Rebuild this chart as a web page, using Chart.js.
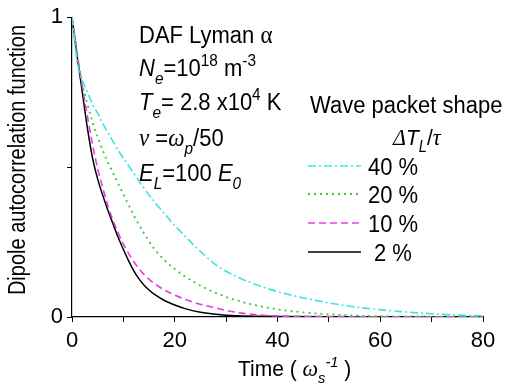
<!DOCTYPE html>
<html><head><meta charset="utf-8">
<script src="https://cdn.jsdelivr.net/npm/chart.js@4"></script>
<style>html,body{margin:0;padding:0;background:#fff}#wrap{width:509px;height:387px}</style>
</head><body><div id="wrap"><canvas id="c" width="509" height="387"></canvas></div>
<script>
const seriesLabels = ['40 %', '20 %', '10 %', '2 %'];
const t40 = [0,1,2,3,4,5,6,7,8,9,10,12,14,16,18,20,22,24,26,28,31,34,38,42,46,50,54,60,64,70,74,80];
const v40 = [1,0.85,0.79,0.75,0.71,0.68,0.645,0.615,0.585,0.555,0.53,0.48,0.43,0.385,0.345,0.305,0.27,0.235,0.203,0.174,0.143,0.12,0.095,0.076,0.06,0.047,0.036,0.024,0.018,0.011,0.007,0.004];
const t20 = [0,1,2,3,4,5,6,7,8,9,10,12,14,16,18,20,22,25,28,31,35,38,42,46,50,56,65,80];
const v20 = [1,0.88,0.78,0.71,0.65,0.6,0.555,0.515,0.48,0.445,0.41,0.34,0.28,0.228,0.19,0.16,0.135,0.105,0.08,0.061,0.042,0.031,0.021,0.014,0.009,0.004,0.002,0.001];
const t10 = [0,1,2,3,4,5,6,7,8,9,10,11,12,13,14,16,18,20,23,26,28,30,33,38,45,60,80];
const v10 = [1,0.88,0.77,0.67,0.575,0.495,0.43,0.37,0.322,0.28,0.243,0.212,0.185,0.162,0.142,0.112,0.09,0.073,0.053,0.038,0.03,0.022,0.013,0.005,0.002,0.001,0.001];
const t2 = [0,1,2,3,4,5,6,7,8,9,10,11,12,13,14,15,16,18,20,22,25,28,32,40,50,60,80];
const v2 = [1,0.87,0.75,0.63,0.53,0.46,0.405,0.355,0.31,0.265,0.225,0.188,0.155,0.128,0.107,0.09,0.076,0.055,0.04,0.028,0.016,0.009,0.004,0.002,0.001,0.001,0.001];
const xTicks = [0,10,20,30,40,50,60,70,80];
const xLabels = [0,20,40,60,80];
const yTicks = [0,0.5,1];
const yLabels = [0,1];

const FONT = '"Liberation Sans", Arial, sans-serif';
const SERIF = '"Liberation Serif", "Times New Roman", serif';
const pts = (t,v) => t.map((x,i)=>({x:x,y:v[i]}));

// segs: [text, mode]; modes: n, i, g (greek upright serif), gi (greek italic serif), sub, isub, sup, isup
function drawRich(ctx, x, y, segs, size, sy) {
  ctx.save();
  ctx.translate(x, y);
  ctx.scale(1, sy || 1);
  let cx = 0;
  for (const [txt, m] of segs) {
    let fs = size, dy = 0, font = FONT, it = false;
    if (m === 'i') it = true;
    if (m === 'g') { font = SERIF; fs = size * 1.05; }
    if (m === 'gi') { font = SERIF; it = true; fs = size * 1.05; }
    if (m === 'sub' || m === 'isub') { fs = size*0.7; dy = size*0.33; it = m==='isub'; }
    if (m === 'sup' || m === 'isup') { fs = size*0.7; dy = -size*0.42; it = m==='isup'; }
    ctx.font = (it?'italic ':'') + fs + 'px ' + font;
    ctx.fillText(txt, cx, dy);
    cx += ctx.measureText(txt).width;
  }
  ctx.restore();
}

const annot = {
  id: 'annot',
  afterDraw(chart) {
    const ctx = chart.ctx;
    ctx.save();
    ctx.fillStyle = '#000';
    ctx.textBaseline = 'alphabetic';
    ctx.textAlign = 'left';
    const S = 22, SY = 1.05;
    drawRich(ctx, 139, 43, [['DAF Lyman ', 'n'], ['α', 'g']], S, SY);
    drawRich(ctx, 139, 76, [['N','i'],['e','isub'],['=10','n'],['18','sup'],[' m','n'],['-3','sup']], S, SY);
    drawRich(ctx, 139, 110, [['T','i'],['e','isub'],['= 2.8 x10','n'],['4','sup'],[' K','n']], S, SY);
    drawRich(ctx, 139, 146, [['ν','gi'],[' =','n'],['ω','gi'],['p','isub'],['/50','n']], S, SY);
    drawRich(ctx, 139, 181, [['E','i'],['L','isub'],['=100 ','n'],['E','i'],['0','isub']], S, SY);
    // legend
    const L = 22;
    drawRich(ctx, 310, 113, [['Wave packet shape','n']], L, 1.06);
    drawRich(ctx, 393, 145, [['Δ','gi'],['T','i'],['L','isub'],['/','n'],['τ','gi']], 21, 1.06);
    const ys = [166, 194, 223, 252];
    const tx = [368, 368, 368, 374];
    chart.data.datasets.forEach((ds, i) => {
      ctx.save();
      ctx.strokeStyle = ds.borderColor;
      ctx.lineWidth = ds.borderWidth;
      ctx.setLineDash(ds.borderDash || []);
      ctx.beginPath();
      ctx.moveTo(308, ys[i]); ctx.lineTo(361, ys[i]);
      ctx.stroke();
      ctx.restore();
      drawRich(ctx, tx[i], ys[i] + 9, [[ds.label, 'n']], L, 1.05);
    });
    // x title
    drawRich(ctx, 238, 376, [['Time ( ','n'],['ω','gi'],['s','isub'],['-1','isup'],[' )','n']], 21, 1.05);
    // y title
    ctx.save();
    ctx.translate(25, 160);
    ctx.rotate(-Math.PI / 2);
    ctx.scale(1, 1.15);
    ctx.textAlign = 'center';
    ctx.font = '20px ' + FONT;
    ctx.fillText('Dipole autocorrelation function', 0, 0);
    ctx.restore();
    ctx.restore();
  }
};

new Chart(document.getElementById('c'), {
  type: 'line',
  data: {
    datasets: [
      {label: seriesLabels[0], data: pts(t40, v40), borderColor: '#3ee4e4', borderDash: [8,3,2,3], borderWidth: 1.6},
      {label: seriesLabels[1], data: pts(t20, v20), borderColor: '#3cc83c', borderDash: [2,4], borderWidth: 1.8},
      {label: seriesLabels[2], data: pts(t10, v10), borderColor: '#e040e0', borderDash: [7,4], borderWidth: 1.6},
      {label: seriesLabels[3], data: pts(t2, v2), borderColor: '#000000', borderWidth: 1.5}
    ]
  },
  options: {
    responsive: false, animation: false, devicePixelRatio: 1,
    layout: {padding: {left: 0, right: 26, top: 16, bottom: 0}},
    elements: {point: {radius: 0}, line: {cubicInterpolationMode: 'monotone', fill: false}},
    plugins: {legend: {display: false}, tooltip: {enabled: false}},
    scales: {
      x: {
        type: 'linear', min: 0, max: 80,
        afterBuildTicks(s) { s.ticks = xTicks.map(v => ({value: v})); },
        afterFit(s) { s.height = 70; },
        border: {display: true, color: '#000', width: 1.2},
        grid: {drawOnChartArea: false, tickLength: 5, color: '#000', lineWidth: 1},
        ticks: {color: '#000', font: {family: FONT, size: 22}, padding: 6, maxRotation: 0, autoSkip: false,
          callback: v => xLabels.includes(v) ? String(v) : ''}
      },
      y: {
        type: 'linear', min: 0, max: 1,
        afterBuildTicks(s) { s.ticks = yTicks.map(v => ({value: v})); },
        afterFit(s) { s.width = 72; },
        border: {display: true, color: '#000', width: 1.2},
        grid: {drawOnChartArea: false, tickLength: 5, color: '#000', lineWidth: 1},
        ticks: {color: '#000', font: {family: FONT, size: 22}, padding: 4,
          callback: v => yLabels.includes(v) ? String(v) : ''}
      }
    }
  },
  plugins: [annot]
});
</script></body></html>
